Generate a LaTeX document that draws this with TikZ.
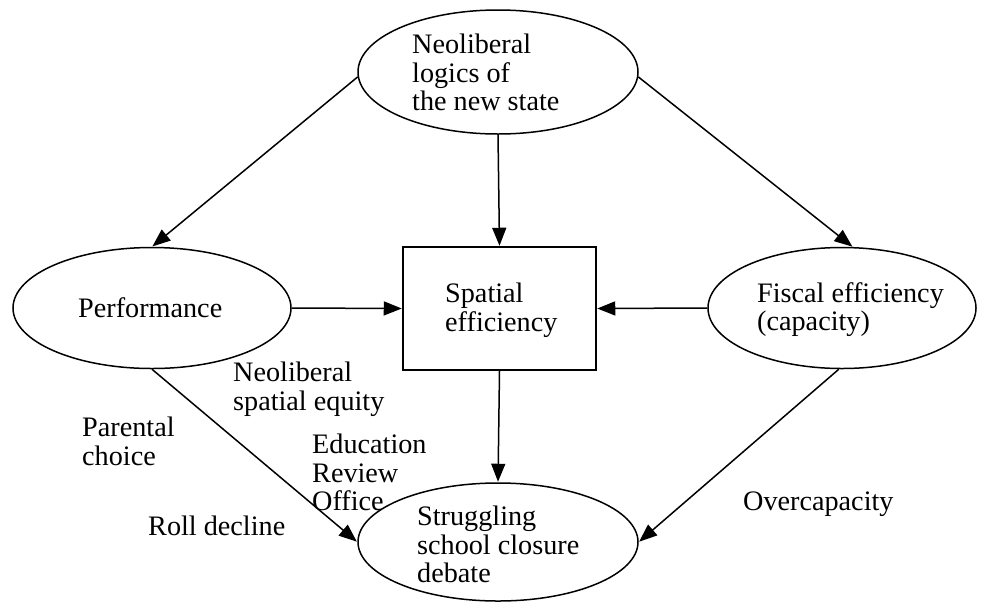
\documentclass[tikz,border=0pt]{standalone}
\usepackage{fontspec}
\setmainfont{Liberation Serif}
\usetikzlibrary{shapes.geometric,arrows.meta}
\tikzset{
  oval/.style={ellipse, draw, line width=1.5pt, inner sep=0pt},
  boxnode/.style={rectangle, draw, line width=1.5pt, inner sep=0pt},
  txt/.style={anchor=north west, inner sep=0pt, align=left, font=\fontsize{28.2}{28.5}\selectfont},
  conn/.style={line width=1.5pt, -{Triangle[length=18pt,width=14pt]}, shorten >=0.5pt}
}
\begin{document}
\begin{tikzpicture}[x=1pt,y=-1pt]
\useasboundingbox (0,0) rectangle (981,603);
% shapes
\node[oval, minimum width=280pt, minimum height=124pt] (top) at (498,72) {};
\node[oval, minimum width=278pt, minimum height=121pt] (perf) at (152,308) {};
\node[oval, minimum width=268pt, minimum height=121pt] (fisc) at (842,308) {};
\node[boxnode, minimum width=193pt, minimum height=123pt] (box) at (499.5,308.5) {};
\node[oval, minimum width=280pt, minimum height=118pt] (close) at (498,542) {};
% texts inside
\node[txt] (ttop) at (412,34) {Neoliberal\\logics of\\the new state};
\node[txt] (tperf) at (78,297) {Performance};
\node[txt] (tfisc) at (757,282) {Fiscal efficiency\\(capacity)};
\node[txt] (tbox) at (445,283) {Spatial\\efficiency};
\node[txt] (tclose) at (417,506) {Struggling\\school closure\\debate};
% free labels
\node[txt] (lneo) at (233,362) {Neoliberal\\spatial equity};
\node[txt] (lpar) at (82,417) {Parental\\choice};
\node[txt] (lero) at (312,434) {Education\\Review\\Office};
\node[txt] (lroll) at (148,516) {Roll decline};
\node[txt] (lover) at (743,492) {Overcapacity};
% connectors
\draw[conn] (top.182) -- (perf.north);
\draw[conn] (top.south) -- (box.north);
\draw[conn] (top.-2) -- (fisc.80);
\draw[conn] (perf.east) -- (box.west);
\draw[conn] (fisc.west) -- (box.east);
\draw[conn] (box.south) -- (close.north);
\draw[conn] (perf.south) -- (close.west);
\draw[conn] (fisc.-93) -- (close.east);
\end{tikzpicture}
\end{document}
